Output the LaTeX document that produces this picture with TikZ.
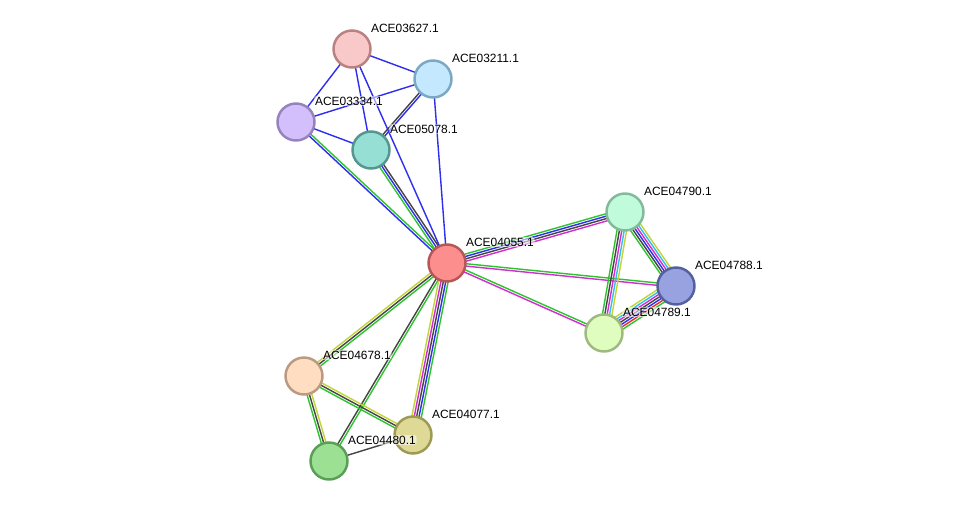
\documentclass[tikz,border=0pt]{standalone}
\usepackage{fontspec}
\setmainfont{Liberation Sans}
\usetikzlibrary{calc,backgrounds}

\definecolor{egreen}{HTML}{2EC42E}
\definecolor{eblue}{HTML}{2E2EF0}
\definecolor{egray}{HTML}{444444}
\definecolor{emag}{HTML}{D02ED0}
\definecolor{ecyan}{HTML}{30C2E8}
\definecolor{eyel}{HTML}{C2D438}
\definecolor{ered}{HTML}{F02A2A}

\tikzset{
  prot/.style={circle,minimum size=0.74cm,inner sep=0pt,line width=1.4pt},
  evline/.style={line width=0.8pt},
  plabel/.style={anchor=west,font=\fontsize{6.8}{8}\selectfont,inner sep=0.4pt,
    fill=white,fill opacity=0.55,text opacity=1,rounded corners=1pt},
}

% a bundle of parallel coloured lines between two proteins
\newcommand\evidence[4]{%
  \foreach \col [count=\i] in {#4} {
    \pgfmathsetmacro\off{((#3+1)/2-\i)*1.35}
    \draw[evline,color=\col] ($(#1)!\off pt!90:(#2)$) -- ($(#2)!\off pt!-90:(#1)$);
  }%
}

\begin{document}
\begin{tikzpicture}[x=0.02cm,y=-0.02cm,line cap=round,line join=round]
    \useasboundingbox (0,0) rectangle (976,507);

    \node[prot,fill={rgb,255:red,249;green,200;blue,200},draw={rgb,255:red,185;green,129;blue,129}] (c627) at (352,49) {};
    \node[prot,fill={rgb,255:red,196;green,232;blue,253},draw={rgb,255:red,123;green,168;blue,194}] (c211) at (433,79) {};
    \node[prot,fill={rgb,255:red,212;green,191;blue,253},draw={rgb,255:red,150;green,130;blue,188}] (c334) at (296,122) {};
    \node[prot,fill={rgb,255:red,150;green,223;blue,213},draw={rgb,255:red,85;green,150;blue,143}] (c078) at (371,150) {};
    \node[prot,fill={rgb,255:red,253;green,142;blue,142},draw={rgb,255:red,182;green,87;blue,87}] (c055) at (447,263) {};
    \node[prot,fill={rgb,255:red,192;green,251;blue,219},draw={rgb,255:red,130;green,186;blue,154}] (c790) at (625,212) {};
    \node[prot,fill={rgb,255:red,152;green,162;blue,224},draw={rgb,255:red,85;green,96;blue,160}] (c788) at (676,286) {};
    \node[prot,fill={rgb,255:red,224;green,253;blue,192},draw={rgb,255:red,158;green,186;blue,128}] (c789) at (604,333) {};
    \node[prot,fill={rgb,255:red,255;green,221;blue,192},draw={rgb,255:red,186;green,154;blue,128}] (c678) at (304,376) {};
    \node[prot,fill={rgb,255:red,223;green,217;blue,150},draw={rgb,255:red,158;green,153;blue,85}] (c077) at (413,435) {};
    \node[prot,fill={rgb,255:red,156;green,224;blue,148},draw={rgb,255:red,90;green,159;blue,85}] (c480) at (329,461) {};

    \begin{scope}[on background layer]
    \fill[white] (0,0) rectangle (976,507);
    \evidence{c627}{c211}{1}{eblue}
    \evidence{c627}{c334}{1}{eblue}
    \evidence{c627}{c078}{1}{eblue}
    \evidence{c627}{c055}{1}{eblue}
    \evidence{c211}{c334}{1}{eblue}
    \evidence{c211}{c078}{2}{eblue,egray}
    \evidence{c211}{c055}{1}{eblue}
    \evidence{c334}{c078}{1}{eblue}
    \evidence{c334}{c055}{2}{egreen,eblue}
    \evidence{c078}{c055}{3}{egray,eblue,egreen}
    \evidence{c055}{c790}{4}{egreen,eblue,egray,emag}
    \evidence{c055}{c788}{2}{egreen,emag}
    \evidence{c055}{c789}{2}{egreen,emag}
    \evidence{c790}{c788}{6}{eyel,ecyan,emag,eblue,egray,egreen}
    \evidence{c790}{c789}{5}{eyel,ecyan,emag,egray,egreen}
    \evidence{c788}{c789}{7}{egreen,ered,eblue,egray,emag,ecyan,eyel}
    \evidence{c055}{c678}{3}{egreen,egray,eyel}
    \evidence{c055}{c480}{2}{egreen,egray}
    \evidence{c055}{c077}{5}{egreen,eblue,egray,emag,eyel}
    \evidence{c678}{c077}{3}{eyel,egray,egreen}
    \evidence{c678}{c480}{3}{eyel,egray,egreen}
    \evidence{c480}{c077}{1}{egray}
    \end{scope}

    \node[plabel] at ($(c627)+(18,-21)$) {ACE03627.1};
    \node[plabel] at ($(c211)+(18,-21)$) {ACE03211.1};
    \node[plabel] at ($(c334)+(18,-21)$) {ACE03334.1};
    \node[plabel] at ($(c078)+(18,-21)$) {ACE05078.1};
    \node[plabel] at ($(c055)+(18,-21)$) {ACE04055.1};
    \node[plabel] at ($(c790)+(18,-21)$) {ACE04790.1};
    \node[plabel] at ($(c788)+(18,-21)$) {ACE04788.1};
    \node[plabel] at ($(c789)+(18,-21)$) {ACE04789.1};
    \node[plabel] at ($(c678)+(18,-21)$) {ACE04678.1};
    \node[plabel] at ($(c077)+(18,-21)$) {ACE04077.1};
    \node[plabel] at ($(c480)+(18,-21)$) {ACE04480.1};
\end{tikzpicture}
\end{document}
